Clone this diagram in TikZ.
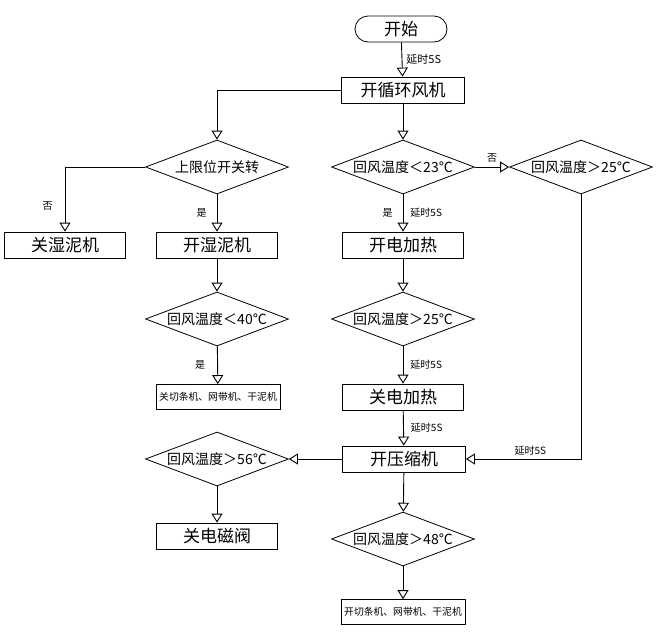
\documentclass[tikz,border=0pt]{standalone}
\usepackage{fontspec}
\setmainfont{Noto Sans CJK SC}
\usetikzlibrary{positioning,shapes.geometric,arrows.meta}

\begin{document}
\begin{tikzpicture}[x=1pt,y=-1pt]
\tikzstyle{every node}+=[inner sep=0pt]
\tikzstyle{box}=[draw, line width=0.8pt, rectangle, minimum width=121pt, minimum height=26pt, font=\fontsize{17}{17}\selectfont]
\tikzstyle{smallbox}=[draw, line width=0.8pt, rectangle, minimum width=124pt, minimum height=25pt, font=\fontsize{9.8}{10}\selectfont]
\tikzstyle{test}=[draw, line width=0.8pt, diamond, aspect=2.65, minimum width=143pt, minimum height=54pt, font=\fontsize{14}{14}\selectfont]
\tikzstyle{lbl}=[font=\fontsize{10}{10}\selectfont]
\tikzstyle{flow}=[draw, line width=0.9pt, -{Triangle[open,width=11pt,length=9pt]}]
\useasboundingbox (0,0) rectangle (672,640);
\node [draw, line width=0.8pt, rounded corners=13pt, minimum width=92pt, minimum height=26pt, font=\fontsize{17}{17}\selectfont] (start) at (401,29) {开始};
\node [box, minimum width=123pt] (loop) at (403,90) {开循环风机};
\node [test] (lim) at (217,167) {上限位开关转};
\node [test] (d23) at (403,167) {回风温度＜23℃};
\node [test] (d25a) at (581,167) {回风温度＞25℃};
\node [box] (offwet) at (65,245) {关湿泥机};
\node [box] (onwet) at (217,245) {开湿泥机};
\node [box] (heaton) at (403,245) {开电加热};
\node [test] (d40) at (217,319) {回风温度＜40℃};
\node [test] (d25b) at (403,319) {回风温度＞25℃};
\node [smallbox] (offcut) at (218,397) {关切条机、网带机、干泥机};
\node [box] (heatoff) at (403,397) {关电加热};
\node [box, minimum width=123pt] (comp) at (404,459) {开压缩机};
\node [test] (d56) at (217,459) {回风温度＞56℃};
\node [box] (valve) at (217,536) {关电磁阀};
\node [test] (d48) at (403,539) {回风温度＞48℃};
\node [smallbox] (oncut) at (403,612) {开切条机、网带机、干泥机};
\draw [flow] (start) -- node [lbl, right=4pt, font=\fontsize{11}{11}\selectfont] {延时5S} (loop);
\draw [flow] (loop.west) -| (lim.north);
\draw [flow] (loop) -- (d23);
\draw [flow] (lim.west) -| node [lbl, pos=.8, left=12pt] {否} (offwet.north);
\draw [flow] (lim) -- node [lbl, left=10pt] {是} (onwet);
\draw [flow] (d23) -- node [lbl, left=10pt] {是} node [lbl, right=7pt] {延时5S} (heaton);
\draw [flow] (d23.east) -- node [lbl, above=4pt] {否} (d25a.west);
\draw [flow] (d25a.south) |- node [lbl, pos=.72, above=3pt] {延时5S} (comp.east);
\draw [flow] (heaton) -- (d25b);
\draw [flow] (d25b) -- node [lbl, right=7pt] {延时5S} (heatoff);
\draw [flow] (heatoff) -- node [lbl, right=7pt] {延时5S} (comp);
\draw [flow] (onwet) -- (d40);
\draw [flow] (d40) -- node [lbl, left=12pt] {是} (offcut);
\draw [flow] (comp.west) -- (d56.east);
\draw [flow] (d56) -- (valve);
\draw [flow] (comp) -- (d48);
\draw [flow] (d48) -- (oncut);
\end{tikzpicture}
\end{document}
